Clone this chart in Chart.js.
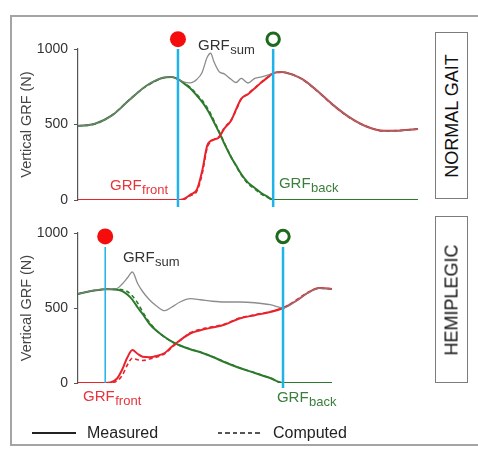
<!DOCTYPE html>
<html>
<head>
<meta charset="utf-8">
<script src="https://cdn.jsdelivr.net/npm/chart.js@4.4.1/dist/chart.umd.min.js"></script>
<style>
  html, body { margin: 0; padding: 0; background: #fff; }
  body { width: 478px; height: 450px; position: relative; overflow: hidden; font-family: 'Liberation Sans', Arial, sans-serif; }
  #frame { position: absolute; left: 10px; top: 15px; width: 500px; height: 431px; box-sizing: border-box; border: 2.5px solid #a4a4a4; }
  canvas { position: absolute; left: 0; }
  #normChart { top: 0; }
  #hemiChart { top: 215px; }
  .tag { position: absolute; left: 435px; width: 33px; box-sizing: border-box; border: 1.5px solid #7c7c7c; background: #fff; }
  .tag span { position: absolute; left: 50%; top: 50%; transform: translate(-50%, -50%) rotate(-90deg); white-space: nowrap; font-size: 18px; color: #111; }
  .legline { position: absolute; top: 432px; height: 2px; }
  .solid { background: #222; }
  .dashed { height: 1.5px; background: repeating-linear-gradient(to right, #555 0 4.5px, transparent 4.5px 7.5px); }
  .legtext { position: absolute; top: 424px; font-size: 16px; line-height: 18px; color: #222; }
</style>
</head>
<body>
<div id="frame"></div>
<canvas id="normChart" width="478" height="215"></canvas>
<canvas id="hemiChart" width="478" height="235"></canvas>
<div class="tag" style="top:32px; height:167px"><span>NORMAL GAIT</span></div>
<div class="tag" style="top:216px; height:167px"><span>HEMIPLEGIC</span></div>
<div class="legline solid" style="left:32px; width:44px"></div>
<div class="legtext" style="left:87px">Measured</div>
<div class="legline dashed" style="left:218px; width:45px"></div>
<div class="legtext" style="left:273px">Computed</div>
<script>
// ---- normal gait (time in % of the plotted window) ----
const normTime = [0, 5, 10, 15, 20, 25, 27.5, 29.4, 31, 33, 35, 36.5, 38, 39, 40, 41.5, 43, 45, 46.5, 48, 50, 52, 54, 56, 57.4, 60, 63, 66, 70, 75, 80, 85, 90, 95, 100];
const normBackMeas = [490, 505, 560, 660, 755, 810, 815, 800, 775, 740, 690, 650, 600, 560, 515, 448, 375, 285, 228, 172, 115, 80, 45, 18, 0, 0, 0, 0, 0, 0, 0, 0, 0, 0, 0];
const normBackComp = [492, 503, 562, 662, 752, 808, 814, 800, 778, 746, 698, 660, 612, 572, 525, 455, 380, 288, 225, 166, 108, 72, 38, 14, 0, 0, 0, 0, 0, 0, 0, 0, 0, 0, 0];
const normFrontMeas = [0, 0, 0, 0, 0, 0, 0, 0, 5, 35, 70, 190, 360, 390, 400, 415, 472, 525, 600, 670, 700, 740, 780, 815, 840, 848, 830, 800, 730, 630, 545, 485, 458, 460, 470];
const normFrontComp = [0, 0, 0, 0, 0, 0, 0, 0, 3, 28, 60, 170, 345, 385, 402, 420, 478, 528, 595, 668, 705, 742, 783, 818, 840, 846, 832, 798, 728, 628, 543, 486, 457, 461, 470];
const normSum = [490, 505, 560, 660, 755, 810, 815, 800, 782, 776, 800, 845, 945, 972, 915, 850, 835, 800, 778, 805, 775, 805, 815, 828, 840, 848, 830, 800, 730, 630, 545, 485, 458, 460, 470];
const normContact = 29.4;
const normToeOff = 57.4;

// ---- hemiplegic ----
const hemiTime = [0, 3.5, 6.5, 8, 9.5, 11.5, 13, 14.5, 16, 17.5, 19, 21, 23, 25.5, 27.5, 30, 33, 36, 39.5, 43, 47.5, 52, 56.5, 60.3, 64, 67.5, 71, 74.7];
const hemiBackMeas = [593, 612, 622, 625, 625, 622, 612, 590, 555, 505, 460, 395, 350, 307, 278, 250, 225, 205, 175, 140, 100, 67, 33, 0, 0, 0, 0, 0];
const hemiBackComp = [593, 612, 622, 625, 626, 625, 622, 610, 580, 535, 475, 405, 352, 305, 276, 250, 226, 206, 176, 142, 102, 68, 34, 0, 0, 0, 0, 0];
const hemiFrontMeas = [0, 0, 0, 0, 3, 30, 90, 170, 220, 195, 175, 172, 180, 200, 240, 285, 330, 352, 370, 388, 430, 452, 473, 500, 545, 600, 633, 627];
const hemiFrontComp = [0, 0, 0, 0, 0, 15, 50, 120, 165, 155, 150, 160, 172, 195, 235, 282, 335, 358, 375, 392, 433, 455, 476, 500, 550, 602, 632, 627];
const hemiSum = [593, 612, 622, 625, 625, 630, 660, 700, 740, 665, 610, 555, 515, 482, 505, 540, 562, 555, 545, 540, 540, 535, 522, 500, 545, 600, 633, 627];
const hemiContact = 8;
const hemiToeOff = 60.3;

const yTicks = [0, 500, 1000];

const RED = '#e8232b';
const GREEN = '#2c7a2c';
const BLUE = '#1fb3ea';
const FONT = "'Liberation Sans', Arial, sans-serif";

const pts = (time, vals) => time.map((t, i) => ({ x: t, y: vals[i] }));

// GRF labels with subscripts
const subLabels = {
  id: 'subLabels',
  afterDatasetsDraw(chart, args, opts) {
    const { ctx, scales: { x, y } } = chart;
    ctx.save();
    ctx.textBaseline = 'alphabetic';
    ctx.textAlign = 'left';
    opts.items.forEach(it => {
      const px = x.getPixelForValue(it.t);
      const py = y.getPixelForValue(it.v);
      ctx.fillStyle = it.color;
      ctx.font = '15px ' + FONT;
      ctx.fillText('GRF', px, py);
      const w = ctx.measureText('GRF').width;
      ctx.font = '13px ' + FONT;
      ctx.fillText(it.sub, px + w + 0.5, py + 4);
    });
    ctx.restore();
  }
};

// event markers sit above the plot area, so draw their points without the area check
const markers = {
  id: 'markers',
  beforeDatasetDraw(chart, args) {
    if (chart.data.datasets[args.index].isMarker) return false;
  },
  afterDatasetsDraw(chart) {
    chart.data.datasets.forEach((ds, i) => {
      if (!ds.isMarker) return;
      chart.getDatasetMeta(i).data.forEach(pt => pt.draw(chart.ctx));
    });
  }
};

function makePanel(id, p) {
  const curveClip = { left: 4, top: 4, right: 4, bottom: 0 };
  const curve = (data, color, width, dash) => ({
    data, borderColor: color, borderWidth: width, borderDash: dash || [],
    pointRadius: 0, cubicInterpolationMode: 'monotone', clip: curveClip
  });
  const vline = (t, y0, y1, w) => ({
    data: [{ x: t, y: y0 }, { x: t, y: y1 }], borderColor: BLUE, borderWidth: w,
    pointRadius: 0, clip: false
  });
  return new Chart(document.getElementById(id), {
    type: 'line',
    data: {
      datasets: [
        { isMarker: true, data: [{ x: p.contact, y: p.marker }], showLine: false, pointRadius: 8,
          pointBackgroundColor: '#f50d0d', pointBorderWidth: 0, clip: false },
        { isMarker: true, data: [{ x: p.toeOff, y: p.marker }], showLine: false, pointRadius: 6.2,
          pointBackgroundColor: '#fff', pointBorderColor: '#1d6a1d', pointBorderWidth: 3, clip: false },
        vline(p.contact, p.lineTop, p.contactBottom, p.contactWidth),
        vline(p.toeOff, p.lineTop, p.toeOffBottom, 2.5),
        curve(pts(p.time, p.sum), 'rgba(128,128,128,0.9)', 1.3),
        curve(pts(p.time, p.frontComp), RED, 1.6, [4, 3]),
        curve(pts(p.time, p.backComp), GREEN, 1.6, [4, 3]),
        curve(pts(p.time, p.frontMeas), RED, 2),
        curve(pts(p.time, p.backMeas), GREEN, 2)
      ]
    },
    options: {
      responsive: false,
      animation: false,
      events: [],
      layout: { padding: p.padding },
      plugins: {
        legend: { display: false },
        tooltip: { enabled: false },
        subLabels: { items: p.labels }
      },
      scales: {
        x: { type: 'linear', min: 0, max: 100, display: false },
        y: {
          min: 0, max: 1000,
          afterFit: (s) => { s.width = 78; },
          afterBuildTicks: (s) => { s.ticks = yTicks.map(v => ({ value: v })); },
          ticks: { padding: 6, color: '#333', font: { family: FONT, size: 14 },
            callback: (v) => String(v) },
          grid: { drawOnChartArea: false, drawTicks: true, tickLength: 4, color: '#555' },
          border: { color: '#555', width: 1.2 },
          title: { display: true, text: 'Vertical GRF (N)', color: '#444',
            font: { family: FONT, size: 14.5 }, padding: { top: 18, bottom: 0 } }
        }
      }
    },
    plugins: [subLabels, markers]
  });
}

makePanel('normChart', {
  time: normTime, backMeas: normBackMeas, backComp: normBackComp,
  frontMeas: normFrontMeas, frontComp: normFrontComp, sum: normSum,
  contact: normContact, toeOff: normToeOff, marker: 1065,
  lineTop: 1000, contactBottom: -46, toeOffBottom: -46, contactWidth: 2.5,
  padding: { left: 0, right: 60, top: 49, bottom: 15 },
  labels: [
    { t: 9.4, v: 66, sub: 'front', color: '#e8343b' },
    { t: 35.3, v: 993, sub: 'sum', color: '#333' },
    { t: 59.1, v: 79, sub: 'back', color: '#3b7d3b' }
  ]
});

makePanel('hemiChart', {
  time: hemiTime, backMeas: hemiBackMeas, backComp: hemiBackComp,
  frontMeas: hemiFrontMeas, frontComp: hemiFrontComp, sum: hemiSum,
  contact: hemiContact, toeOff: hemiToeOff, marker: 977,
  lineTop: 907, contactBottom: 0, toeOffBottom: -33, contactWidth: 1.5,
  padding: { left: 0, right: 60, top: 18, bottom: 67 },
  labels: [
    { t: 1.5, v: -120, sub: 'front', color: '#e8343b' },
    { t: 13.2, v: 807, sub: 'sum', color: '#333' },
    { t: 58.5, v: -127, sub: 'back', color: '#3b7d3b' }
  ]
});
</script>
</body>
</html>
